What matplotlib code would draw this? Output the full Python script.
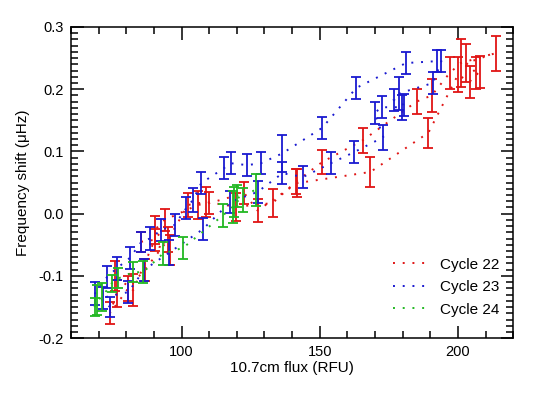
import numpy as np
import matplotlib.pyplot as plt
from matplotlib.ticker import MultipleLocator, FormatStrFormatter

plt.rcParams['font.family'] = ['Liberation Sans', 'DejaVu Sans']

# Cycle 22 (red) - flux (RFU), shift (uHz), error
x22 = [76.5, 74.1, 80.7, 86.7, 95.1, 102.3, 108.9, 119.7, 132.9, 141.3, 150.9, 165.6,
       185.0, 190.5, 197.0, 201.0, 213.6, 203.0, 206.6, 207.8, 204.2, 200.0, 189.3,
       168.3, 141.7, 127.5, 122.7, 110.1, 105.9, 93.9, 90.3, 95.7, 85.5, 90.3, 82.5, 76.0]
y22 = [-0.128, -0.160, -0.120, -0.090, -0.042, 0.014, 0.019, 0.011, 0.017, 0.051, 0.083, 0.118,
       0.180, 0.190, 0.226, 0.242, 0.258, 0.242, 0.226, 0.228, 0.212, 0.223, 0.130,
       0.067, 0.049, 0.005, 0.033, 0.017, 0.014, -0.010, -0.026, -0.058, -0.045, -0.042, -0.123, -0.100]
e22 = [0.022, 0.018, 0.020, 0.018, 0.020, 0.020, 0.024, 0.022, 0.022, 0.020, 0.020, 0.020,
       0.020, 0.026, 0.026, 0.038, 0.028, 0.030, 0.026, 0.026, 0.026, 0.028, 0.024,
       0.024, 0.022, 0.018, 0.018, 0.018, 0.022, 0.018, 0.022, 0.024, 0.016, 0.018, 0.026, 0.024]

# Cycle 23 (blue)
x23 = [74.1, 68.7, 73.0, 76.5, 81.3, 85.5, 88.5, 92.7, 97.5, 101.7, 104.1, 107.1, 115.3,
       117.9, 123.7, 128.7, 136.5, 150.9, 163.2, 181.2, 192.3, 194.0, 191.0, 178.5, 176.7,
       180.3, 179.7, 172.5, 169.8, 173.0, 162.5, 154.0, 144.0, 136.5, 127.5, 117.7, 107.7,
       95.4, 86.5, 80.7, 71.5]
y23 = [-0.150, -0.128, -0.102, -0.088, -0.071, -0.045, -0.040, -0.026, -0.018, 0.009, 0.022,
       0.049, 0.073, 0.081, 0.078, 0.081, 0.097, 0.138, 0.202, 0.242, 0.245, 0.245, 0.210,
       0.193, 0.183, 0.175, 0.171, 0.171, 0.162, 0.123, 0.099, 0.081, 0.059, 0.065, 0.035,
       0.019, -0.025, -0.063, -0.090, -0.126, -0.135]
e23 = [0.016, 0.018, 0.018, 0.018, 0.018, 0.016, 0.018, 0.018, 0.018, 0.018, 0.020, 0.018,
       0.018, 0.018, 0.018, 0.018, 0.030, 0.018, 0.018, 0.018, 0.018, 0.018, 0.018, 0.026,
       0.018, 0.018, 0.020, 0.018, 0.018, 0.020, 0.018, 0.018, 0.018, 0.018, 0.018, 0.018,
       0.018, 0.020, 0.018, 0.018, 0.018]

# Cycle 24 (green)
x24 = [68.5, 69.4, 71.2, 74.7, 77.1, 82.5, 86.1, 93.3, 100.5, 114.9, 118.5, 119.0, 122.1,
       120.0, 126.9]
y24 = [-0.150, -0.139, -0.134, -0.112, -0.104, -0.094, -0.094, -0.064, -0.055, -0.003, 0.011,
       0.019, 0.022, 0.028, 0.038]
e24 = [0.014, 0.024, 0.022, 0.014, 0.016, 0.016, 0.018, 0.018, 0.018, 0.018, 0.026, 0.024,
       0.020, 0.018, 0.026]

cycles = [('Cycle 22', x22, y22, e22, '#e01515'),
          ('Cycle 23', x23, y23, e23, '#1a1ad0'),
          ('Cycle 24', x24, y24, e24, '#22b822')]

fig = plt.figure(figsize=(5.38, 3.96), dpi=100)
ax = fig.add_axes([0.132, 0.146, 0.822, 0.786])

for name, x, y, e, c in cycles:
    ax.plot(x, y, linestyle=(0, (1, 4)), color=c, lw=1.4, label=name)
    ax.errorbar(x, y, yerr=e, fmt='none', ecolor=c, elinewidth=1.3,
                capsize=3.5, capthick=1.3)

ax.set_xlim(60, 220)
ax.set_ylim(-0.2, 0.3)
ax.xaxis.set_major_locator(MultipleLocator(50))
ax.xaxis.set_minor_locator(MultipleLocator(10))
ax.yaxis.set_major_locator(MultipleLocator(0.1))
ax.yaxis.set_minor_locator(MultipleLocator(0.01))
ax.yaxis.set_major_formatter(FormatStrFormatter('%.1f'))
ax.tick_params(which='both', direction='in', top=True, right=True, width=1.1,
               labelsize=10.5, pad=5)
ax.tick_params(which='major', length=9)
ax.tick_params(which='minor', length=5)
for s in ax.spines.values():
    s.set_linewidth(1.1)

ax.set_xlabel('10.7cm flux (RFU)', fontsize=11, labelpad=1)
ax.set_ylabel('Frequency shift (μHz)', fontsize=11, labelpad=6)

ax.legend(loc='lower right', frameon=False, fontsize=11, handlelength=2.2,
          handletextpad=0.9, labelspacing=0.55, bbox_to_anchor=(1.0, 0.025))

fig.savefig('out.png', dpi=100)
